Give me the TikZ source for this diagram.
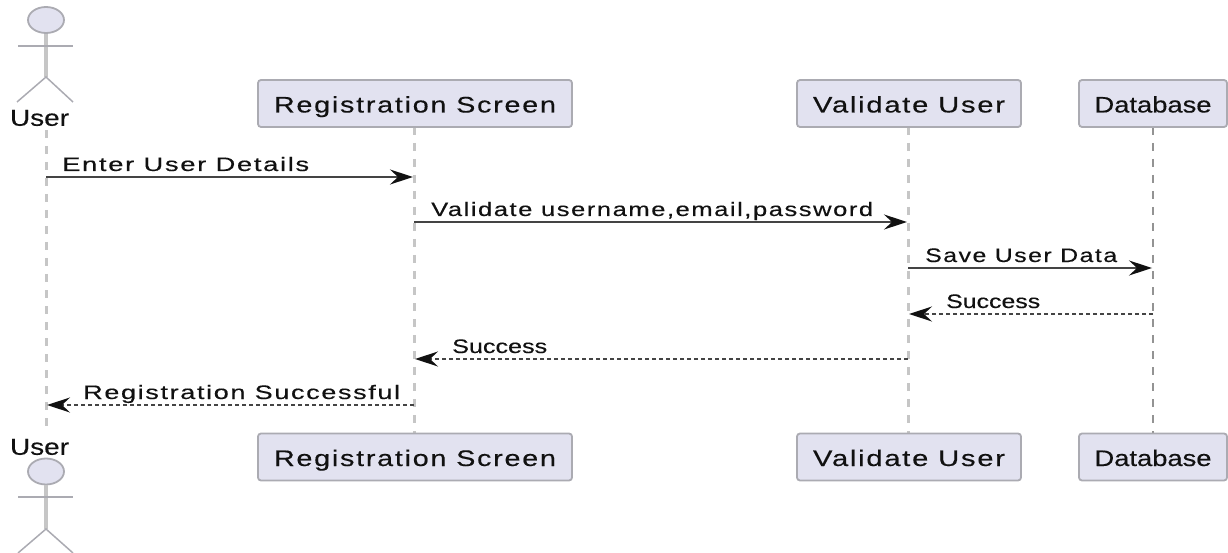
\documentclass[tikz,border=0pt]{standalone}
\usepackage{graphicx}
\usepackage{fontspec}
\setmainfont[FakeBold=0.3]{Liberation Sans}
\newfontfamily\widefont[LetterSpace=6,FakeBold=0.3]{Liberation Sans}
\usetikzlibrary{arrows.meta,shapes.geometric}
\newcommand{\fitw}[2]{\resizebox{#1pt}{\height}{#2}}
\definecolor{pfill}{HTML}{E2E2F0}
\definecolor{pline}{HTML}{ABABB2}
\definecolor{lifeg}{HTML}{C6C6C6}
\definecolor{ink}{HTML}{111111}
\definecolor{lineink}{HTML}{444444}
\tikzset{
 x=1pt,y=-1pt,
 partbox/.style={draw=pline,fill=pfill,line width=1.8pt,rounded corners=3pt,minimum height=47pt,inner sep=0pt,text=ink,text height=18pt,text depth=0pt},
 partw/.style={partbox,font=\widefont\fontsize{22.5}{26}\selectfont},
 partn/.style={partbox,font=\fontsize{22.5}{26}\selectfont},
 actorlabel/.style={font=\fontsize{23}{26}\selectfont,text=ink,inner sep=0pt},
 msgw/.style={font=\widefont\fontsize{19.5}{22}\selectfont,text=ink,inner sep=0pt,anchor=base west},
 msgn/.style={font=\fontsize{19.5}{22}\selectfont,text=ink,inner sep=0pt,anchor=base west},
 lifeline/.style={draw=lifeg,line width=3pt,dash pattern=on 8pt off 8pt},
 lifethin/.style={draw=gray!85,line width=2pt,dash pattern=on 8pt off 8pt},
 actorbody/.style={draw=pline,line width=1.5pt},
 actorspine/.style={draw=lifeg,line width=3.5pt},
 actorhead/.style={draw=pline,fill=pfill,line width=1.8pt,ellipse,minimum width=36pt,minimum height=26pt,inner sep=0pt},
 call/.style={draw=lineink,line width=2pt,-{Stealth[length=23pt,width=15pt,inset=8pt,color=ink,fill=ink]}},
 reply/.style={draw=lineink,line width=1.5pt,dash pattern=on 4pt off 3pt,-{Stealth[length=23pt,width=15pt,inset=8pt,color=ink,fill=ink]}},
}
\begin{document}
\begin{tikzpicture}
\useasboundingbox (0,0) rectangle (1228,553);
\coordinate (uT) at (46,130); \coordinate (uB) at (46,432);
\coordinate (rTs) at (414,127); \coordinate (rBn) at (414,433);
\coordinate (vTs) at (908,127); \coordinate (vBn) at (908,433);
\coordinate (dTs) at (1153,127); \coordinate (dBn) at (1153,433);
\draw[lifeline] (uT) -- (uB);
\draw[lifeline] (rTs) -- (rBn);
\draw[lifeline] (vTs) -- (vBn);
\draw[lifethin] (dTs) -- (dBn);
\node[partw,minimum width=314pt] (rT) at (415,103.5) {\fitw{282}{Registration Screen}};
\node[partw,minimum width=314pt] (rB) at (415,457) {\fitw{282}{Registration Screen}};
\node[partw,minimum width=224pt] (vT) at (909,103.5) {\fitw{192}{Validate User}};
\node[partw,minimum width=224pt] (vB) at (909,457) {\fitw{192}{Validate User}};
\node[partn,minimum width=148pt] (dT) at (1153,103.5) {\fitw{117}{Database}};
\node[partn,minimum width=148pt] (dB) at (1153,457) {\fitw{117}{Database}};
% top actor
\node[actorlabel] (uLT) at (39.5,118) {\fitw{59}{User}};
\node[actorhead] (hT) at (46,20) {};
\coordinate (hipT) at (46,77);
\coordinate (armLT) at (18,46); \coordinate (armRT) at (73,46);
\coordinate (legLT) at (17,102); \coordinate (legRT) at (73,102);
\draw[actorspine] (hT.south) -- (hipT);
\draw[actorbody] (armLT) -- (armRT);
\draw[actorbody] (legLT) -- (hipT) -- (legRT);
% bottom actor
\node[actorlabel] (uLB) at (39.5,447) {\fitw{59}{User}};
\node[actorhead] (hB) at (46,471.5) {};
\coordinate (hipB) at (46,529);
\coordinate (armLB) at (18,497); \coordinate (armRB) at (73,497);
\coordinate (legLB) at (18,553); \coordinate (legRB) at (73,553);
\draw[actorspine] (hB.south) -- (hipB);
\draw[actorbody] (armLB) -- (armRB);
\draw[actorbody] (legLB) -- (hipB) -- (legRB);
% messages
\coordinate (m1a) at (46,177); \coordinate (m1b) at (413,177);
\coordinate (m2a) at (414,222); \coordinate (m2b) at (907,222);
\coordinate (m3a) at (908,268); \coordinate (m3b) at (1152,268);
\coordinate (m4a) at (1153,314); \coordinate (m4b) at (909,314);
\coordinate (m5a) at (908,359); \coordinate (m5b) at (415,359);
\coordinate (m6a) at (414,405); \coordinate (m6b) at (47,405);
\draw[call] (m1a) -- (m1b);
\draw[call] (m2a) -- (m2b);
\draw[call] (m3a) -- (m3b);
\draw[reply] (m4a) -- (m4b);
\draw[reply] (m5a) -- (m5b);
\draw[reply] (m6a) -- (m6b);
\node[msgw] (t1) at (62,171) {\fitw{247}{Enter User Details}};
\node[msgw] (t2) at (431,216) {\fitw{442}{Validate username,email,password}};
\node[msgw] (t3) at (925,262) {\fitw{192}{Save User Data}};
\node[msgn] (t4) at (946,308) {\fitw{94}{Success}};
\node[msgn] (t5) at (452,353) {\fitw{95}{Success}};
\node[msgw] (t6) at (83,399) {\fitw{317}{Registration Successful}};
\end{tikzpicture}
\end{document}
